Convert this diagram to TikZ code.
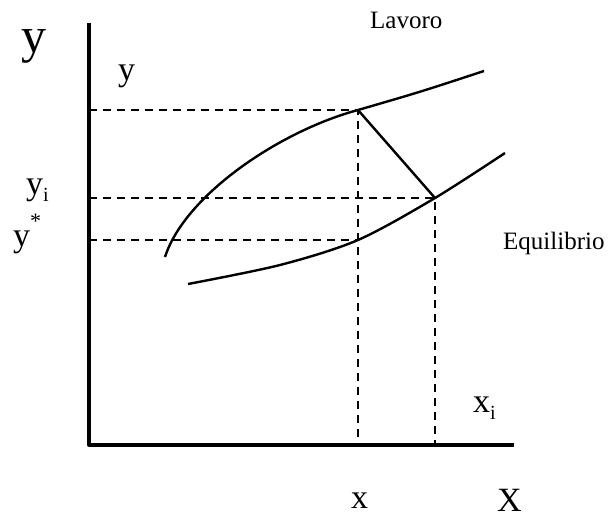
\documentclass[tikz,border=0pt]{standalone}
\usepackage{fontspec}
\setmainfont{Liberation Serif}
\usetikzlibrary{calc}
\tikzset{
  every picture/.style={line cap=butt, line join=round, x=1pt, y=-1pt},
  % Linientypen
  axis/.style={line width=3.3pt},
  curve/.style={line width=2.4pt},
  guide/.style={line width=1.6pt, dash pattern=on 7.5pt off 6.5pt},
  % Beschriftung
  bigtxt/.style={anchor=base west, inner sep=0pt, font=\fontsize{50}{50}\selectfont},
  lbltxt/.style={anchor=base west, inner sep=0pt, font=\fontsize{34}{34}\selectfont},
  curvetxt/.style={anchor=base west, inner sep=0pt, font=\fontsize{25}{25}\selectfont},
}
\newcommand{\lowidx}[1]{\raisebox{-7pt}{\fontsize{20}{20}\selectfont #1}}
\begin{document}
\begin{tikzpicture}
  \useasboundingbox (0,0) rectangle (611,517);
  % Achsen
  \coordinate (O) at (89,445);
  \coordinate (Ytop) at (89,23);
  \coordinate (Xend) at (514,445);
  \draw[axis] (Ytop) -- (O) -- (Xend);
  % Schnittpunkte
  \coordinate (L) at (358,110);
  \coordinate (E) at (435,198);
  \coordinate (S) at (358,240);
  % Hilfslinien
  \draw[guide] (L -| O) -- (L) -- (L |- O);
  \draw[guide] (E -| O) -- (E) -- (E |- O);
  \draw[guide] (S -| O) -- (S);
  % Kurven
  \draw[curve] (165,257) .. controls (185,195) and (280,131) .. (L)
    .. controls (420,92) .. (484,71);
  \draw[curve] plot[smooth] coordinates
    {(188,284) (280,265) (S) (E) (505,153)};
  \draw[curve] (L) -- (E);
  % Beschriftung
  \node[bigtxt] (ybig) at (21,52) {y};
  \node[lbltxt] (y) at (118,80) {y};
  \node[lbltxt] (yi) at (26,194) {y\lowidx{i}};
  \node[lbltxt] (ys) at (13,246) {y\raisebox{18pt}{\fontsize{22}{22}\selectfont *}};
  \node[lbltxt] (xi) at (473,412) {x\lowidx{i}};
  \node[lbltxt] (x) at (351,508) {x};
  \node[lbltxt] (Xbig) at (497,511) {X};
  \node[curvetxt] (lav) at (370,28) {Lavoro};
  \node[curvetxt] (equ) at (503,249) {Equilibrio};
\end{tikzpicture}
\end{document}
